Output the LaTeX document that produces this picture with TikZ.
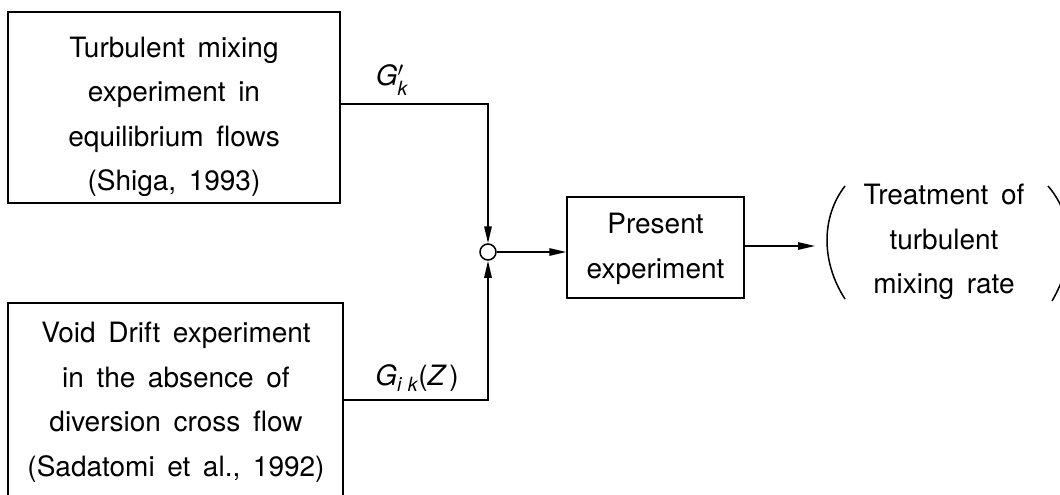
\documentclass[tikz,border=0pt]{standalone}
\usepackage{fontspec}
\usepackage{amsmath}
\setmainfont{TeX Gyre Heros}
\usetikzlibrary{arrows.meta}
\tikzset{
  txt/.style={align=center, inner sep=0pt, font={\fontsize{28}{44.5}\selectfont\spaceskip=0.45em\relax}},
  lbl/.style={inner sep=0pt, font={\fontsize{28}{32}\selectfont}},
  boxnode/.style={draw, line width=1.5pt, inner sep=0pt},
  conn/.style={line width=1.5pt},
  arr/.style={conn, -{Triangle[length=17pt,width=7.5pt]}},
  paren/.style={line width=1.5pt}
}
\begin{document}
\begin{tikzpicture}[x=1pt,y=-1pt]
\useasboundingbox (0,0) rectangle (1060,495);
\clip (0,0) rectangle (1060,495);
% boxes
\node[boxnode, minimum width=332pt, minimum height=191pt] (b1) at (174,107.5) {};
\node[txt] (t1) at (174,117) {Turbulent mixing\\experiment in\\equilibrium flows\\(Shiga, 1993)};
\node[boxnode, minimum width=335pt, minimum height=204pt] (b2) at (175.5,405) {};
\node[txt] (t2) at (176,402) {Void Drift experiment\\in the absence of\\diversion cross flow\\(Sadatomi et al., 1992)};
\node[boxnode, minimum width=177pt, minimum height=101pt] (p) at (655.5,247.5) {};
\node[txt] (tp) at (655.5,249) {Present\\experiment};
\node[draw, circle, line width=1.5pt, minimum size=16pt, inner sep=0pt] (c) at (488,252) {};
\node[txt] (tr) at (944,242) {Treatment of\\turbulent\\mixing rate};
% labels
\node[lbl] (g1) at (392,80) {\textit{G}$'_{\textit{k}}$};
\node[lbl] (g2) at (417,378) {\textit{G}$_{\textit{i\,\,k}}$(\textit{Z\,})};
% coordinates
\coordinate (y1) at (0,104);
\coordinate (y2) at (0,400);
\coordinate (tip) at (815,246);
% connectors
\draw[arr] (b1.east |- y1) -| (c.north);
\draw[arr] (b2.east |- y2) -| (c.south);
\draw[arr] (c.east) -- (c.east -| p.west);
\draw[arr] (p.east |- tip) -- (tip);
% parentheses
\draw[paren] ([xshift=-99pt,yshift=-57pt]tr.center) .. controls ([xshift=-123pt,yshift=-20pt]tr.center) and ([xshift=-123pt,yshift=25pt]tr.center) .. ([xshift=-99pt,yshift=56pt]tr.center);
\draw[paren] ([xshift=108pt,yshift=-59pt]tr.center) .. controls ([xshift=131pt,yshift=-20pt]tr.center) and ([xshift=131pt,yshift=25pt]tr.center) .. ([xshift=104pt,yshift=56pt]tr.center);
\end{tikzpicture}
\end{document}
